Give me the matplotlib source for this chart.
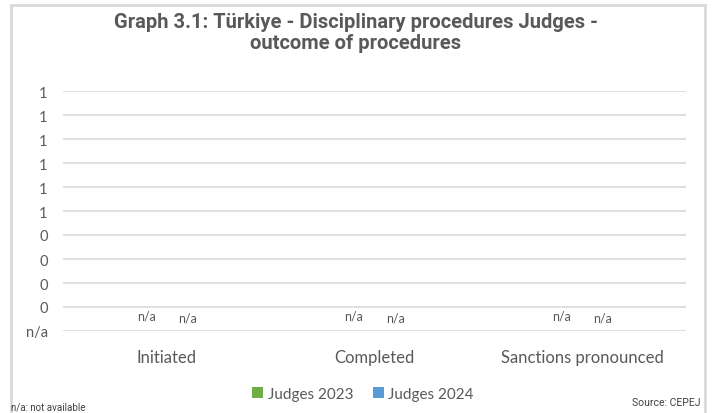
import matplotlib
matplotlib.use("Agg")
import matplotlib.pyplot as plt
from matplotlib.patches import Rectangle, Patch
import numpy as np

categories = ["Initiated", "Completed", "Sanctions pronounced"]
series_names = ["Judges 2023", "Judges 2024"]
values_2023 = [0, 0, 0]
values_2024 = [0, 0, 0]
data_labels_2023 = ["n/a", "n/a", "n/a"]
data_labels_2024 = ["n/a", "n/a", "n/a"]
ytick_values = [0.0, 0.1, 0.2, 0.3, 0.4, 0.5, 0.6, 0.7, 0.8, 0.9, 1.0]
ytick_labels = ["n/a", "0", "0", "0", "0", "1", "1", "1", "1", "1", "1"]
colors = ["#70AD47", "#5B9BD5"]

W, H = 712, 414
fig = plt.figure(figsize=(W / 100, H / 100), dpi=100)
fig.patch.set_facecolor("white")

# outer border
fig.add_artist(Rectangle((10.5 / W, -0.01), (705 - 10.5) / W, 1 - 5.5 / H + 0.01,
                         transform=fig.transFigure, fill=False,
                         edgecolor="#d9d9d9", linewidth=2))

# axes: x 63..686, y from 92 (1.0) to 332 (0)
x0, x1 = 63, 686
ytop, ybot = 92, 332
ax = fig.add_axes([x0 / W, 1 - ybot / H, (x1 - x0) / W, (ybot - ytop) / H])
ax.set_xlim(-0.5, 2.5)
ax.set_ylim(0, 1.0)
ax.set_facecolor("none")
for s in ax.spines.values():
    s.set_visible(False)
ax.set_yticks(ytick_values)
ax.set_yticklabels(ytick_labels)
ax.tick_params(axis="y", length=0, pad=11, labelsize=10.5, labelcolor="#595959")
ax.grid(axis="y", color="#d9d9d9", linewidth=1.2)
ax.set_axisbelow(True)
ax.set_xticks(range(len(categories)))
ax.set_xticklabels(categories)
ax.tick_params(axis="x", length=0, pad=13, labelsize=12, labelcolor="#595959")
for lab in ax.get_xticklabels() + ax.get_yticklabels():
    lab.set_family("Lato")

x = np.arange(len(categories))
bw = 0.1
ax.bar(x - bw, values_2023, width=bw, color=colors[0])
ax.bar(x + bw, values_2024, width=bw, color=colors[1])
for i in range(len(categories)):
    ax.annotate(data_labels_2023[i], (x[i] - bw, values_2023[i]), xytext=(0, 7),
                textcoords="offset points", ha="center", va="bottom",
                fontsize=9, color="#595959", family="Lato")
    ax.annotate(data_labels_2024[i], (x[i] + bw, values_2024[i]), xytext=(0, 5.5),
                textcoords="offset points", ha="center", va="bottom",
                fontsize=9, color="#595959", family="Lato")

# title
fig.text(0.5, 1 - 33 / H, "Graph 3.1: Türkiye - Disciplinary procedures Judges -\noutcome of procedures",
         ha="center", va="center", fontsize=14.5, fontweight="bold", color="#595959",
         family="Roboto", linespacing=1.1)

# legend
handles = [Patch(facecolor=c, edgecolor="none") for c in colors]
leg = fig.legend(handles, series_names, loc="center", bbox_to_anchor=(363 / W, 1 - 395 / H),
                 ncol=2, frameon=False, handlelength=0.7, handleheight=0.7,
                 handletextpad=0.3, columnspacing=1.3,
                 prop={"family": "Lato", "size": 11})
for t in leg.get_texts():
    t.set_color("#595959")

fig.text(11 / W, 1 - 408 / H, "n/a: not available", ha="left", va="center",
         fontsize=7, color="#404040", family="Roboto")
fig.text(700 / W, 1 - 403 / H, "Source: CEPEJ", ha="right", va="center",
         fontsize=7.5, color="#404040", family="Roboto")

fig.savefig("out.png", dpi=100)
